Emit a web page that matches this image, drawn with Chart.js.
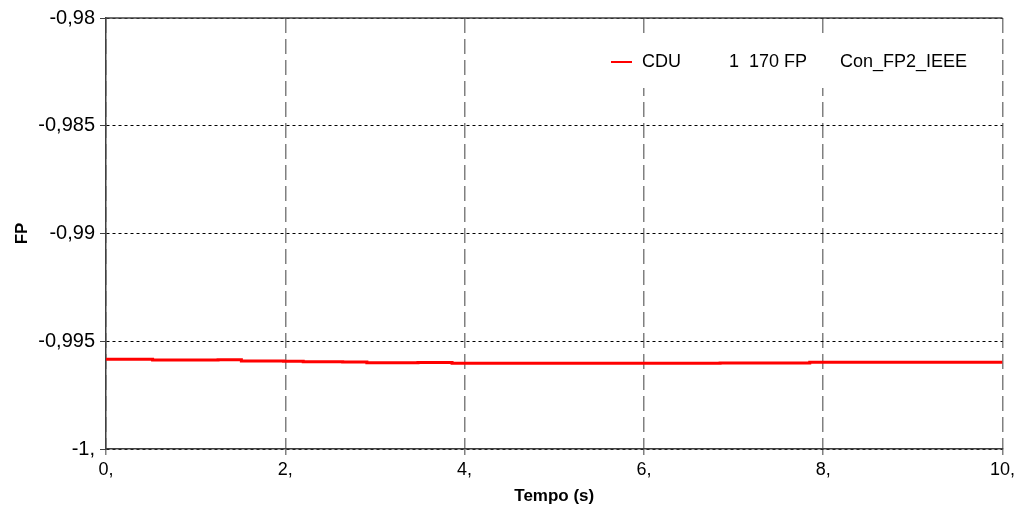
<!DOCTYPE html>
<html>
<head>
<meta charset="utf-8">
<script src="https://cdn.jsdelivr.net/npm/chart.js@4/dist/chart.umd.min.js"></script>
<style>
  html, body { margin: 0; padding: 0; background: #fff; }
  #wrap { width: 1019px; height: 514px; }
</style>
</head>
<body>
<div id="wrap"><canvas id="fpChart" width="1019" height="514"></canvas></div>
<script>
// ---- data ----
const seriesLabel = "CDU";
const legendExtra = ["1  170 FP", "Con_FP2_IEEE"];
const timeSec = [0, 0.52, 1.25, 1.51, 1.98, 2.2, 2.64, 2.91, 3.48, 3.86, 6.85, 7.85, 10];
const fpValues = [-0.99584, -0.99587, -0.99586, -0.99592, -0.99593, -0.99595, -0.99596,
  -0.99600, -0.99599, -0.99602, -0.99601, -0.99598, -0.99598];
const xTickLabels = ["0,", "2,", "4,", "6,", "8,", "10,"];
const yTickLabels = ["-1,", "-0,995", "-0,99", "-0,985", "-0,98"];

const FONT = "'Liberation Sans', Arial, sans-serif";

// top frame line + legend box inside the plot
const framePlugin = {
  id: "framePlugin",
  beforeDatasetsDraw(chart) {
    const { ctx, chartArea } = chart;
    ctx.save();
    ctx.strokeStyle = "#404040";
    ctx.lineWidth = 1.5;
    ctx.beginPath();
    ctx.moveTo(chartArea.left, chartArea.top);
    ctx.lineTo(chartArea.right, chartArea.top);
    ctx.stroke();
    ctx.restore();
  },
  afterDatasetsDraw(chart) {
    const { ctx } = chart;
    ctx.save();
    ctx.fillStyle = "#fff";
    ctx.fillRect(600, 38, 390, 50);
    ctx.strokeStyle = "#ff0000";
    ctx.lineWidth = 2;
    ctx.beginPath();
    ctx.moveTo(611, 62);
    ctx.lineTo(632, 62);
    ctx.stroke();
    ctx.fillStyle = "#000";
    ctx.font = "18px " + FONT;
    ctx.textBaseline = "middle";
    ctx.fillText(chart.data.datasets[0].label, 642, 62);
    ctx.fillText(legendExtra[0], 729, 62);
    ctx.fillText(legendExtra[1], 840, 62);
    ctx.restore();
  }
};

const points = timeSec.map((t, i) => ({ x: t, y: fpValues[i] }));

new Chart(document.getElementById("fpChart"), {
  type: "line",
  data: {
    datasets: [{
      label: seriesLabel,
      data: points,
      borderColor: "#ff0000",
      borderWidth: 3,
      pointRadius: 0,
      stepped: true,
      fill: false
    }]
  },
  options: {
    responsive: false,
    animation: false,
    layout: { padding: { top: 18, right: 16, left: 0, bottom: 0 } },
    plugins: { legend: { display: false }, tooltip: { enabled: false } },
    scales: {
      x: {
        type: "linear",
        min: 0,
        max: 10,
        afterFit: (s) => { s.height = 65; },
        ticks: {
          stepSize: 2,
          color: "#000",
          padding: 4,
          maxRotation: 0,
          font: { family: FONT, size: 18 },
          callback: (v) => xTickLabels[Math.round(v / 2)]
        },
        grid: {
          color: "#808080",
          lineWidth: 1.5,
          tickLength: 6,
          tickColor: "#808080"
        },
        border: { color: "#404040", width: 1.5, dash: [15, 6] },
        title: {
          display: true,
          text: "Tempo (s)",
          color: "#000",
          font: { family: FONT, size: 17, weight: "bold" },
          padding: { top: 0, bottom: 7 }
        }
      },
      y: {
        min: -1,
        max: -0.98,
        afterFit: (s) => { s.width = 106; },
        ticks: {
          stepSize: 0.005,
          color: "#000",
          padding: 5,
          font: { family: FONT, size: 20 },
          callback: (v) => yTickLabels[Math.round((v + 1) / 0.005)]
        },
        grid: {
          color: "#000",
          lineWidth: 1,
          tickLength: 6,
          tickColor: "#404040"
        },
        border: { color: "#404040", width: 1.5, dash: [3, 3] },
        title: {
          display: true,
          text: "FP",
          color: "#000",
          font: { family: FONT, size: 17, weight: "bold" },
          padding: { top: 12, bottom: 0 }
        }
      }
    }
  },
  plugins: [framePlugin]
});
</script>
</body>
</html>
